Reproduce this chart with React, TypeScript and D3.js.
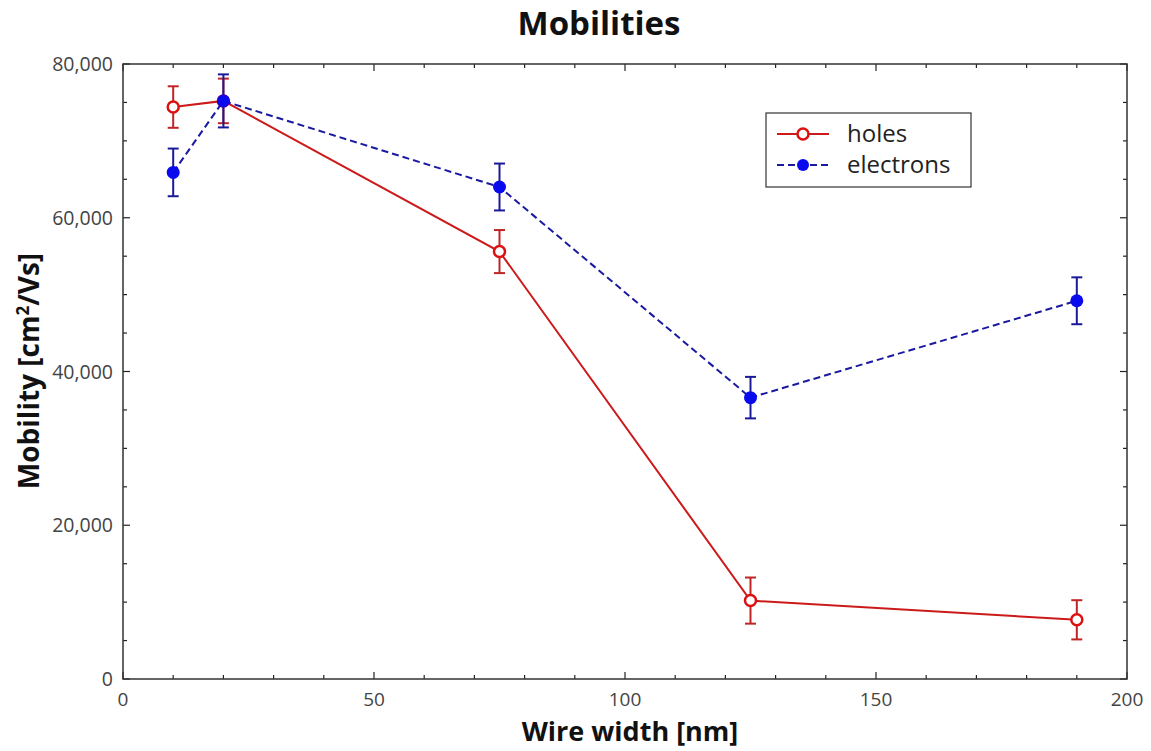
import React from "react";
import * as d3 from "d3";

const widths = [10, 20, 75, 125, 190];
const holes = [74400, 75200, 55600, 10200, 7700];
const holesErr = [2700, 2900, 2800, 3000, 2550];
const electrons = [65900, 75200, 64000, 36600, 49200];
const electronsErr = [3100, 3450, 3050, 2700, 3050];
const xTicks = [0, 50, 100, 150, 200];
const yTicks = [0, 20000, 40000, 60000, 80000];

const W = 1151, H = 751;
const M = { left: 123, right: 1127, top: 64, bottom: 679 };
const FONT = "'Open Sans', 'Noto Sans', sans-serif";

export default function App() {
  const x = d3.scaleLinear().domain([0, 200]).range([M.left, M.right]);
  const y = d3.scaleLinear().domain([0, 80000]).range([M.bottom, M.top]);
  const line = d3.line<[number, number]>().x(d => x(d[0])).y(d => y(d[1]));
  const hPts = widths.map((w, i) => [w, holes[i]] as [number, number]);
  const ePts = widths.map((w, i) => [w, electrons[i]] as [number, number]);
  const xMinor = d3.range(0, 201, 10);
  const yMinor = d3.range(0, 80001, 5000);
  const fmt = d3.format(",");

  const errBars = (vals: number[], errs: number[], color: string) =>
    widths.map((w, i) => {
      const cx = x(w);
      const y1 = y(vals[i] + errs[i]);
      const y2 = y(vals[i] - errs[i]);
      return (
        <g key={i} stroke={color} strokeWidth={2}>
          <line x1={cx} x2={cx} y1={y1} y2={y2} />
          <line x1={cx - 5.5} x2={cx + 5.5} y1={y1} y2={y1} />
          <line x1={cx - 5.5} x2={cx + 5.5} y1={y2} y2={y2} />
        </g>
      );
    });

  return (
    <svg width={W} height={H} style={{ position: "absolute", left: 0, top: 0, background: "#fff" }}>
      <rect x={0} y={0} width={W} height={H} fill="#fff" />
      <text x={599} y={35} textAnchor="middle" fontFamily={FONT} fontWeight="bold" fontSize={33} fill="#111">
        Mobilities
      </text>
      <g stroke="#222" strokeWidth={1.2}>
        {xMinor.map(t => {
          const major = t % 50 === 0;
          const len = major ? 7 : 4;
          return (
            <g key={"x" + t}>
              <line x1={x(t)} x2={x(t)} y1={M.bottom} y2={M.bottom - len} />
              <line x1={x(t)} x2={x(t)} y1={M.top} y2={M.top + len} />
            </g>
          );
        })}
        {yMinor.map(t => {
          const major = t % 20000 === 0;
          const len = major ? 7 : 4;
          return (
            <g key={"y" + t}>
              <line x1={M.left} x2={M.left + len} y1={y(t)} y2={y(t)} />
              <line x1={M.right} x2={M.right - len} y1={y(t)} y2={y(t)} />
            </g>
          );
        })}
      </g>
      <rect x={M.left} y={M.top} width={M.right - M.left} height={M.bottom - M.top} fill="none" stroke="#333" strokeWidth={1.5} />
      {xTicks.map(t => (
        <text key={t} x={x(t)} y={706} textAnchor="middle" fontFamily={FONT} fontSize={19} fill="#444">
          {t}
        </text>
      ))}
      {yTicks.map(t => (
        <text key={t} x={113} y={y(t) + 7} textAnchor="end" fontFamily={FONT} fontSize={19.5} fill="#444">
          {fmt(t)}
        </text>
      ))}
      <text x={630} y={741} textAnchor="middle" fontFamily={FONT} fontWeight="bold" fontSize={27} fill="#111">
        Wire width [nm]
      </text>
      <text transform="translate(39,371) rotate(-90)" textAnchor="middle" fontFamily={FONT} fontWeight="bold" fontSize={28} fill="#111">
        Mobility [cm<tspan dy={-10} fontSize={17}>2</tspan><tspan dy={10}>/Vs]</tspan>
      </text>

      <path d={line(hPts) || ""} fill="none" stroke="#cc1a1a" strokeWidth={2} />
      {errBars(holes, holesErr, "#c02424")}
      {hPts.map((p, i) => (
        <circle key={i} cx={x(p[0])} cy={y(p[1])} r={5.5} fill="#fff" stroke="#dd0f0f" strokeWidth={2.5} />
      ))}
      <path d={line(ePts) || ""} fill="none" stroke="#1a1aa0" strokeWidth={2} strokeDasharray="7,4" />
      {errBars(electrons, electronsErr, "#1a1a99")}
      {ePts.map((p, i) => (
        <circle key={i} cx={x(p[0])} cy={y(p[1])} r={6.5} fill="#0a0aee" />
      ))}

      <rect x={766} y={113} width={205} height={74} fill="#fff" stroke="#333" strokeWidth={1.2} />
      <line x1={777} x2={829} y1={134} y2={134} stroke="#cc1a1a" strokeWidth={2} />
      <circle cx={803} cy={134} r={5.5} fill="#fff" stroke="#dd0f0f" strokeWidth={2.5} />
      <text x={847} y={142} fontFamily={FONT} fontSize={24} fill="#222">holes</text>
      <line x1={777} x2={829} y1={165} y2={165} stroke="#1a1aa0" strokeWidth={2} strokeDasharray="7,4" />
      <circle cx={803} cy={165} r={6} fill="#0a0aee" />
      <text x={847} y={173} fontFamily={FONT} fontSize={24} fill="#222">electrons</text>
    </svg>
  );
}
